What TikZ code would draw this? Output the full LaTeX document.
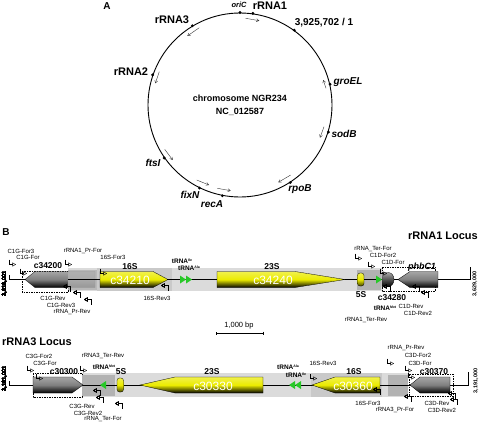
\documentclass[tikz,border=0pt]{standalone}
\usepackage{fontspec}
\setmainfont{Liberation Sans}
\usetikzlibrary{arrows.meta}
\definecolor{trnagreen}{RGB}{40,200,40}
\definecolor{geneyellow}{RGB}{235,235,0}

% gene arrow: tail, shoulder, tip, y, colour
\newcommand{\gene}[5]{\shade[draw=black, line width=.3pt, top color=#5!70!white, bottom color=black, middle color=#5] (#1,#4-8) -- (#2,#4-8) -- (#3,#4) -- (#2,#4+8) -- (#1,#4+8) -- cycle;}
\newcommand{\fwdprimer}[2]{\draw[primer] (#1-3,#2-3.5) |- (#1+4,#2+1.5);}
\newcommand{\revprimer}[2]{\draw[primer] (#1+3,#2+3.5) |- (#1-4,#2-1.5);}
\newcommand{\trnaR}[2]{\fill[trna] (#1,#2-4) -- (#1+6,#2) -- (#1,#2+4) -- cycle;}
\newcommand{\trnaL}[2]{\fill[trna] (#1+6,#2-4) -- (#1,#2) -- (#1+6,#2+4) -- cycle;}
\newcommand{\sups}[1]{\raisebox{2.2pt}{\fontsize{3.5}{4}\selectfont #1}}

\begin{document}
\begin{tikzpicture}[x=1pt, y=-1pt,
  panel/.style={font=\bfseries\fontsize{10}{11}\selectfont, inner sep=0},
  lab/.style={font=\bfseries\fontsize{11}{12}\selectfont, inner sep=0},
  feat/.style={font=\bfseries\itshape\fontsize{10}{11}\selectfont, inner sep=0},
  prim/.style={font=\fontsize{6}{7}\selectfont, inner sep=0},
  genelab/.style={font=\bfseries\fontsize{8.5}{9}\selectfont, inner sep=0},
  inlab/.style={font=\fontsize{12}{12}\selectfont, text=white, inner sep=0},
  trnalab/.style={font=\bfseries\fontsize{6.5}{7}\selectfont, inner sep=0},
  coordlab/.style={font=\bfseries\fontsize{5.5}{6}\selectfont, rotate=90, inner sep=0},
  primer/.style={line width=.4pt, -{Triangle[open, length=3.6pt, width=4pt, line width=.4pt]}},
  dirarrow/.style={line width=.4pt, black!80, -{Straight Barb[length=2.5pt, width=3pt]}},
  band/.style={fill=gray!28},
  midbox/.style={fill=gray!42},
  darkbox/.style={fill=gray!60},
  amplicon/.style={line width=.35pt, dash pattern=on 1.5pt off 1pt},
  trna/.style={fill=trnagreen},
  fivesS/.style={draw=black, line width=.3pt, top color=geneyellow!70!white, bottom color=black!70!geneyellow, middle color=geneyellow, rounded corners=2.5pt}]
\useasboundingbox (0,0) rectangle (480,423);

%% A: chromosome map
\node[panel] (pa) at (107,6) {A};
\node[circle, draw, line width=.9pt, minimum size=184pt, inner sep=0] (chrom) at (240,105) {};
\foreach \a in {90,82.7,54.8,13,-17.3,-57.6,-101,-116,-145.6,161.7,121.9}
  \fill (chrom.\a) circle (1.6);
\node[font=\bfseries\itshape\fontsize{7.5}{8}\selectfont, inner sep=0] (oric) at (239,5) {oriC};
\node[lab] (rrna1) at (270,6) {rRNA1};
\node[font=\bfseries\fontsize{10}{11}\selectfont, inner sep=0] (origin) at (324,23) {3,925,702 / 1};
\node[lab] (rrna3) at (172,20) {rRNA3};
\node[lab] (rrna2) at (131,72) {rRNA2};
\node[feat] (groel) at (348,82) {groEL};
\node[feat] (sodb) at (344,134) {sodB};
\node[feat] (rpob) at (300,189) {rpoB};
\node[feat] (reca) at (212,204) {recA};
\node[feat] (fixn) at (190,195) {fixN};
\node[feat] (ftsi) at (153,163) {ftsI};
\node[font=\bfseries\fontsize{9}{12.5}\selectfont, align=center, inner sep=0] (chromname) at (240,105.5) {chromosome NGR234\\NC\_012587};
\foreach \sx/\sy/\ex/\ey in {245.7/18.3/259.3/20.7, 199.3/27.7/187.3/36, 159.3/71.7/155.3/83.3,
    326/88.3/323.3/80, 324/126.7/320/137.7, 290.7/175/278.3/182.3,
    217.3/188.3/230.7/190.7, 196.7/180/209/185, 164.7/149.3/172.7/160}
  \draw[dirarrow] (\sx,\sy) -- (\ex,\ey);

%% B: rRNA1 locus
\node[panel] (pb) at (6,232) {B};
\node[lab] (locus1) at (443,236) {rRNA1 Locus};
\fill[band] (68,268) rectangle (383,291);
\fill[midbox] (97,268) rectangle (172,291);
\draw[amplicon] (22,271) rectangle (68,292);
\draw[amplicon] (382,267) rectangle (435,291);
\draw[line width=.8pt] (9,275) -- (9,279.5) -- (470,279.5) -- (470,267);
\gene{95}{35}{25}{279.5}{gray}
\fill[darkbox, fill opacity=.85] (68,269.5) rectangle (97,289.5);
\fill[darkbox] (357,269.5) rectangle (381,289.5);
\draw[line width=.8pt] (68,279.5) -- (97,279.5) (357,279.5) -- (381,279.5);
\gene{100}{153}{168}{279.5}{geneyellow}
\gene{217}{295}{345}{279.5}{geneyellow}
\path[fivesS] (357.5,273) rectangle (364,286);
\trnaR{180}{279.5} \trnaR{186}{279.5} \trnaR{376}{279.5}
\shade[draw=black, line width=.3pt, top color=gray!70!white, middle color=gray, bottom color=black] (382,272.5) -- (388,272.5) .. controls (396,272.5) and (396,286.5) .. (388,286.5) -- (382,286.5) -- cycle;
\gene{438}{410}{398}{279.5}{gray}
\foreach \px/\py in {12/263, 23/272, 68/263, 103/272, 358/257, 371/265, 383/272}
  \fwdprimer{\px}{\py}
\foreach \px/\py in {67/288, 77/294, 88/301, 165/287, 387/288, 416/288, 425/294}
  \revprimer{\px}{\py}
\node[coordlab] (start1) at (4.5,284) {3,619,001};
\node[coordlab] (end1) at (475,284) {3,629,000};
\node[prim] (c1gfor3) at (21,251) {C1G-For3};
\node[prim] (c1gfor) at (28,257) {C1G-For};
\node[genelab] (c34200) at (48,266) {c34200};
\node[prim] (pr1for) at (83,251) {rRNA1\_Pr-For};
\node[prim] (s16for1) at (113,257) {16S-For3};
\node[genelab] (s16a) at (130,267) {16S};
\node[inlab] (c34210) at (130,280) {c34210};
\node[prim] (c1grev) at (53,298) {C1G-Rev};
\node[prim] (c1grev3) at (61,305) {C1G-Rev3};
\node[prim] (prrev1) at (72,312) {rRNA\_Pr-Rev};
\node[prim] (s16rev1) at (157,298) {16S-Rev3};
\node[trnalab] (ile1) at (182,261) {tRNA\sups{Ile}};
\node[trnalab] (ala1) at (189,268) {tRNA\sups{Ala}};
\node[genelab] (s23a) at (272,267) {23S};
\node[inlab] (c34240) at (273,280) {c34240};
\node[prim] (terfor1) at (373,249) {rRNA\_Ter-For};
\node[prim] (c1dfor2) at (383,255) {C1D-For2};
\node[prim] (c1dfor) at (393,262) {C1D-For};
\node[font=\bfseries\itshape\fontsize{9}{10}\selectfont, inner sep=0] (phbc1) at (422,267) {phbC1};
\node[genelab] (s5a) at (361,295) {5S};
\node[genelab] (c34280) at (392,298) {c34280};
\node[trnalab] (met1) at (385,308) {tRNA\sups{Met}};
\node[prim] (c1drev) at (411,306) {C1D-Rev};
\node[prim] (c1drev2) at (418,313) {C1D-Rev2};
\node[prim] (terrev1) at (366,320) {rRNA1\_Ter-Rev};

%% scale bar
\node[font=\fontsize{7.5}{8}\selectfont, inner sep=0] (scale) at (239,326) {1,000 bp};
\draw[line width=.5pt, {Bar[width=3pt]}-{Bar[width=3pt]}] (216,333) -- (263,333);

%% B: rRNA3 locus
\node[lab] (locus3) at (37,342) {rRNA3 Locus};
\fill[band] (82,373) rectangle (408,397);
\fill[midbox] (311,373) rectangle (382,397);
\draw[amplicon] (33,373) rectangle (82,397);
\draw[amplicon] (409,374) rectangle (453,396);
\fill[darkbox] (82,374.5) rectangle (115,395.5);
\fill[darkbox] (388,374.5) rectangle (408,395.5);
\draw[line width=.8pt] (9,381) -- (9,385) -- (468,385) -- (468,372);
\gene{33}{72}{83}{385}{gray}
\trnaL{100}{385}
\path[fivesS] (117,378) rectangle (123.5,392);
\gene{263}{175}{140}{385}{geneyellow}
\trnaL{289}{385} \trnaL{295}{385}
\gene{380}{335}{312}{385}{geneyellow}
\gene{450}{420}{410}{385}{gray}
\foreach \px/\py in {30/369, 39/377, 83/369, 313/377, 390/362, 408/369, 411/376}
  \fwdprimer{\px}{\py}
\foreach \px/\py in {97/392, 100/399, 119/405, 377/391, 408/398, 452/395, 454/401}
  \revprimer{\px}{\py}
\node[coordlab] (start3) at (4.5,379) {3,181,001};
\node[coordlab] (end3) at (476,381) {3,191,000};
\node[prim] (c3gfor2) at (39,356) {C3G-For2};
\node[prim] (c3gfor) at (45,363) {C3G-For};
\node[genelab] (c30300) at (64,372) {c30300};
\node[prim] (terrev3) at (103,356) {rRNA3\_Ter-Rev};
\node[trnalab] (met3) at (104,367) {tRNA\sups{Met}};
\node[genelab] (s5b) at (121,372) {5S};
\node[prim] (c3grev) at (82,406) {C3G-Rev};
\node[prim] (c3grev2) at (88,413) {C3G-Rev2};
\node[prim] (terfor3) at (103,419) {rRNA\_Ter-For};
\node[genelab] (s23b) at (212,372) {23S};
\node[inlab] (c30330) at (213,386) {c30330};
\node[trnalab] (ala3) at (288,367) {tRNA\sups{Ala}};
\node[trnalab] (ile3) at (296,375) {tRNA\sups{Ile}};
\node[prim] (s16rev3) at (323,363) {16S-Rev3};
\node[genelab] (s16b) at (354,372) {16S};
\node[inlab] (c30360) at (353,386) {c30360};
\node[prim] (prrev3) at (406,348) {rRNA\_Pr-Rev};
\node[prim] (c3dfor2) at (418,355) {C3D-For2};
\node[prim] (c3dfor) at (420,363) {C3D-For};
\node[genelab] (c30370) at (434,372) {c30370};
\node[prim] (s16for3) at (368,403) {16S-For3};
\node[prim] (pr3for) at (395,410) {rRNA3\_Pr-For};
\node[prim] (c3drev) at (437,403) {C3D-Rev};
\node[prim] (c3drev2) at (442,410) {C3D-Rev2};
\end{tikzpicture}
\end{document}
